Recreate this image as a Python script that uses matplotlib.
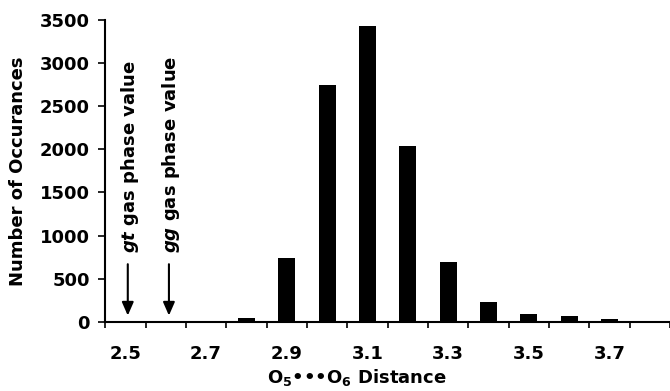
import numpy as np
import matplotlib
matplotlib.use("Agg")
import matplotlib.pyplot as plt

# --- data ---
distances = ["2.5", "2.6", "2.7", "2.8", "2.9", "3.0", "3.1",
             "3.2", "3.3", "3.4", "3.5", "3.6", "3.7", "3.8"]
counts = [4, 0, 0, 48, 735, 2745, 3435, 2035, 697, 232, 93, 63, 31, 5]
yticks = [0, 500, 1000, 1500, 2000, 2500, 3000, 3500]
arrow_labels = ["gt", "gg"]
arrow_pos = [0.06, 1.08]

plt.rcParams["font.family"] = ["DejaVu Sans"]
plt.rcParams["font.weight"] = "bold"
plt.rcParams["mathtext.fontset"] = "custom"
plt.rcParams["mathtext.rm"] = "DejaVu Sans:bold"
plt.rcParams["mathtext.it"] = "DejaVu Sans:italic:bold"
plt.rcParams["mathtext.bf"] = "DejaVu Sans:bold"

fs = 13

fig = plt.figure(figsize=(6.7, 3.91), dpi=100)
ax = fig.add_axes([0.157, 0.177, 0.843, 0.772])

x = np.arange(len(distances))
ax.bar(x, counts, width=0.42, color="black")

ax.set_xlim(-0.5, -0.5 + 565 / 40.7)
ax.set_ylim(0, 3500)
ax.set_yticks(yticks)
ax.tick_params(axis="y", direction="out", length=5, width=1.2, labelsize=fs, pad=6)

# ticks between categories, labels on every other category
ax.set_xticks(np.arange(-0.5, len(distances), 1))
ax.set_xticklabels([])
ax.tick_params(axis="x", which="major", direction="out", length=4, width=1.2)
ax.set_xticks(x[::2], minor=True)
ax.set_xticklabels(distances[::2], minor=True)
ax.tick_params(axis="x", which="minor", length=0, labelsize=fs, pad=17)

for s in ["top", "right"]:
    ax.spines[s].set_visible(False)
for s in ["left", "bottom"]:
    ax.spines[s].set_linewidth(1.5)

ax.set_ylabel("Number of Occurances", fontsize=fs, fontweight="bold", labelpad=9)
ax.set_xlabel(r"O$_5$•••O$_6$ Distance", fontsize=fs, fontweight="bold")
ax.xaxis.label.set_va("center")
ax.xaxis.set_label_coords(0.446, -0.185)

# gas phase arrows
for lab, xp in zip(arrow_labels, arrow_pos):
    ax.annotate("", xy=(xp, 40), xytext=(xp, 700),
                arrowprops=dict(arrowstyle="-|>,head_width=0.35,head_length=0.8",
                                color="black", lw=1.5))
    ax.text(xp + 0.06, 800, r"$\it{" + lab + r"}$ gas phase value",
            rotation=90, ha="center", va="bottom", fontsize=fs, fontweight="bold")

fig.savefig("out.png", dpi=100)
